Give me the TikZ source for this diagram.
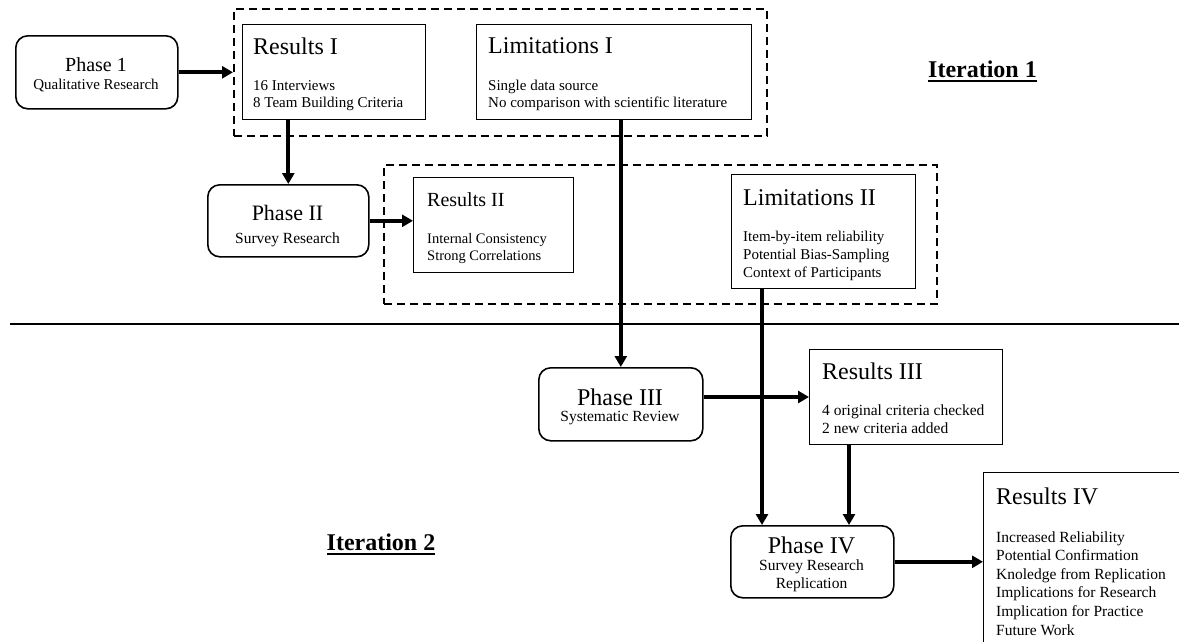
\documentclass[tikz,border=0pt]{standalone}
\usepackage{fontspec}
\setmainfont{Liberation Serif}
\usetikzlibrary{arrows.meta,calc}
\newcommand\myul[1]{\leavevmode\vtop{\hbox{#1}\kern3pt\hrule height 2pt}}
\begin{document}
\begin{tikzpicture}[x=1pt,y=-1pt,
  phase/.style={draw, line width=1.6pt, rounded corners=12pt, inner sep=0pt, anchor=north west},
  box/.style={draw, line width=1.4pt, inner sep=0pt, anchor=north west},
  grp/.style={draw, line width=1.8pt, dash pattern=on 8pt off 5pt, inner sep=0pt, anchor=north west},
  arr/.style={line width=4pt, -{Triangle[length=11pt,width=12pt]}},
  ptitle/.style={anchor=base, inner sep=0pt, font=\fontsize{24}{28}\selectfont},
  psub/.style={anchor=base, inner sep=0pt, font=\fontsize{15.5}{18}\selectfont},
  btitle/.style={anchor=base west, inner sep=0pt, font=\fontsize{24}{28}\selectfont},
  items/.style={anchor=base west, inner sep=0pt, font=\fontsize{15}{17}\selectfont},
  iter/.style={anchor=base, inner sep=0pt, font=\fontsize{24}{28}\selectfont\bfseries},
]
\useasboundingbox (0,0) rectangle (1179,641);
\clip (0,0) rectangle (1179,641);

% ---------- group boxes ----------
\node[grp, minimum width=533pt, minimum height=127pt] (grp1) at (233,8) {};
\node[grp, minimum width=553pt, minimum height=139pt] (grp2) at (383,164) {};

% ---------- phases ----------
\node[phase, minimum width=162pt, minimum height=73pt] (ph1) at (15,35) {};
\node[ptitle, font=\fontsize{20}{24}\selectfont] (ph1t) at (96,71) {Phase 1};
\node[psub, font=\fontsize{15}{18}\selectfont] (ph1s) at (96,89) {Qualitative Research};

\node[phase, minimum width=161pt, minimum height=72pt] (ph2) at (207,184) {};
\node[ptitle, font=\fontsize{22}{26}\selectfont] (ph2t) at (287.5,220) {Phase II};
\node[psub] (ph2s) at (287.5,243) {Survey Research};

\node[phase, minimum width=164pt, minimum height=73pt] (ph3) at (538,367) {};
\node[ptitle] (ph3t) at (620,405) {Phase III};
\node[psub] (ph3s) at (620,421) {Systematic Review};

\node[phase, minimum width=163pt, minimum height=72pt] (ph4) at (730,525) {};
\node[ptitle] (ph4t) at (811.5,553) {Phase IV};
\node[psub] (ph4s) at (811.5,570) {Survey Research};
\node[psub] (ph4r) at (811.5,588) {Replication};

% ---------- result / limitation boxes ----------
\node[box, minimum width=183pt, minimum height=95pt] (res1) at (242,24) {};
\node[btitle] (res1t) at (253,54) {Results I};
\node[items] (res1i) at (253,90) {\vtop{\baselineskip=17pt\hbox{16 Interviews}\hbox{8 Team Building Criteria}}};

\node[box, minimum width=275pt, minimum height=95pt] (lim1) at (476,24) {};
\node[btitle] (lim1t) at (488,53) {Limitations I};
\node[items] (lim1i) at (488,90) {\vtop{\baselineskip=17pt\hbox{Single data source}\hbox{No comparison with scientific literature}}};

\node[box, minimum width=160pt, minimum height=95pt] (res2) at (413,177) {};
\node[btitle, font=\fontsize{20}{24}\selectfont] (res2t) at (427,206) {Results II};
\node[items, font=\fontsize{14.5}{17}\selectfont] (res2i) at (427,243) {\vtop{\baselineskip=17.5pt\hbox{Internal Consistency}\hbox{Strong Correlations}}};

\node[box, minimum width=184pt, minimum height=114pt] (lim2) at (731,174) {};
\node[btitle] (lim2t) at (743,205) {Limitations II};
\node[items] (lim2i) at (743,241) {\vtop{\baselineskip=18pt\hbox{Item-by-item reliability}\hbox{Potential Bias-Sampling}\hbox{Context of Participants}}};

\node[box, minimum width=193pt, minimum height=95pt] (res3) at (809,349) {};
\node[btitle] (res3t) at (822,379) {Results III};
\node[items, font=\fontsize{15.5}{18}\selectfont] (res3i) at (822,415) {\vtop{\baselineskip=18pt\hbox{4 original criteria checked}\hbox{2 new criteria added}}};

\node[box, minimum width=260pt, minimum height=250pt] (res4) at (983,472) {};
\node[btitle] (res4t) at (996,504) {Results IV};
\node[items, font=\fontsize{15.5}{18}\selectfont] (res4i) at (996,542) {\vtop{\baselineskip=18.6pt\hbox{Increased Reliability}\hbox{Potential Confirmation}\hbox{Knoledge from Replication}\hbox{Implications for Research}\hbox{Implication for Practice}\hbox{Future Work}}};

% ---------- iteration labels ----------
\node[iter] (it1) at (982.5,77) {\myul{Iteration 1}};
\node[iter] (it2) at (381,550) {\myul{Iteration 2}};

% ---------- separator ----------
\coordinate (sepL) at (10,324);
\coordinate (sepR) at (1179,324);
\draw[line width=1.6pt] (sepL) -- (sepR);

% ---------- connectors ----------
\coordinate (a5) at (762,525);
\coordinate (a6) at (702,397);
\coordinate (a7) at (849,525);
\draw[arr] (ph1.east) -- (grp1.west |- ph1.east);
\draw[arr] (ph2.north |- res1.south) -- (ph2.north);
\draw[arr] (ph2.east) -- (res2.west |- ph2.east);
\draw[arr] (ph3.north |- lim1.south) -- (ph3.north);
\draw[arr] (a5 |- lim2.south) -- (a5);
\draw[arr] (ph3.east |- a6) -- (res3.west |- a6);
\draw[arr] (a7 |- res3.south) -- (a7);
\draw[arr] (ph4.east) -- (res4.west |- ph4.east);
\end{tikzpicture}
\end{document}
